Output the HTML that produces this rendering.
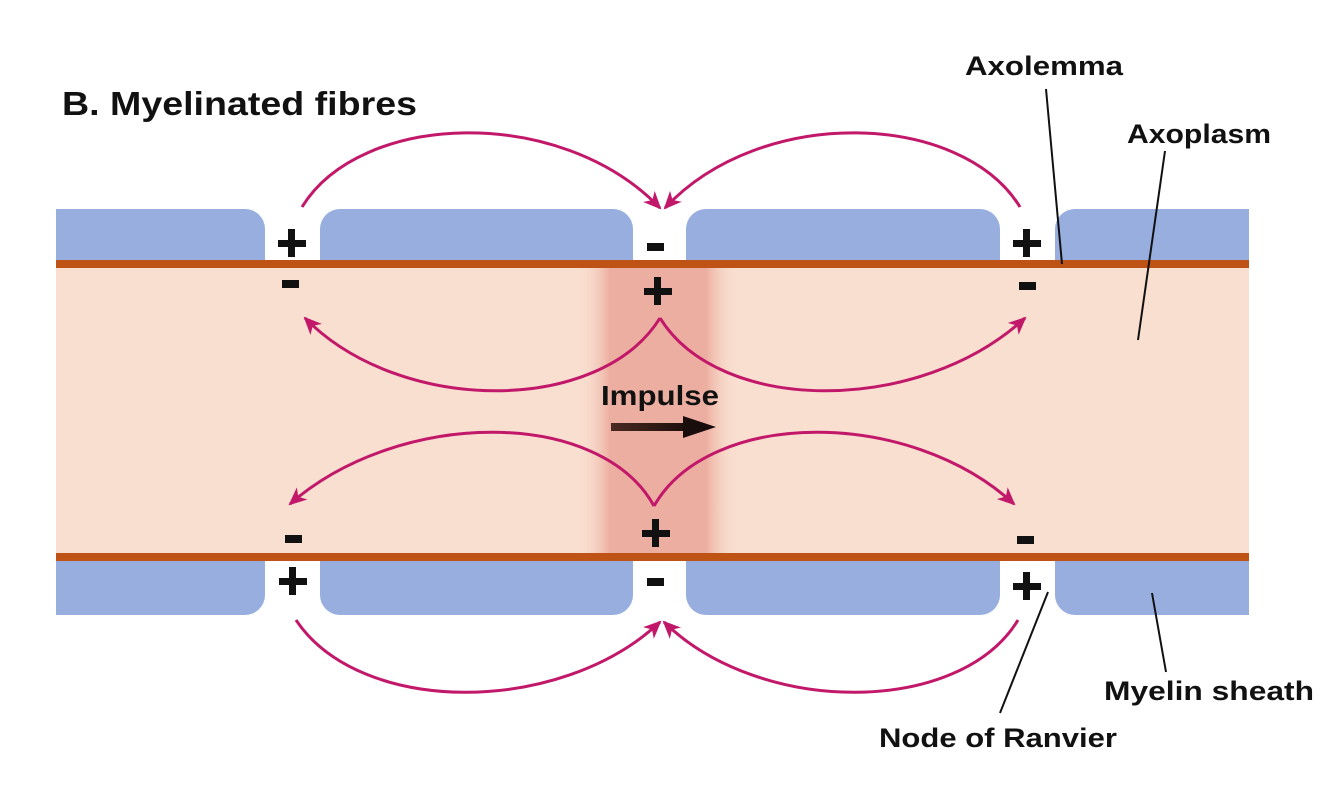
<!DOCTYPE html>
<html><head><meta charset="utf-8"><style>
html,body{margin:0;padding:0;background:#fff;}
svg{display:block;}
text{font-family:"Liberation Sans",sans-serif;font-weight:bold;fill:#111;}
</style></head><body>
<svg width="1334" height="790" viewBox="0 0 1334 790" xmlns="http://www.w3.org/2000/svg">
<defs>
<linearGradient id="band" x1="0" x2="1" y1="0" y2="0">
<stop offset="0" stop-color="#f9dfd0" stop-opacity="0"/>
<stop offset="0.2" stop-color="#ecaea0"/>
<stop offset="0.8" stop-color="#ecaea0"/>
<stop offset="1" stop-color="#f9dfd0" stop-opacity="0"/>
</linearGradient>
<linearGradient id="arr" x1="0" x2="1">
<stop offset="0" stop-color="#4a2a22"/><stop offset="1" stop-color="#1a0e0c"/>
</linearGradient>
<marker id="ah" markerWidth="18" markerHeight="16" refX="16" refY="8" orient="auto" markerUnits="userSpaceOnUse">
<path d="M0,0 L18,8 L0,16 L5,8 Z" fill="#c2186a"/>
</marker>
</defs>
<rect x="56" y="268" width="1193" height="285" fill="#f9dfd0"/>
<rect x="578" y="268" width="160" height="285" fill="url(#band)"/>
<g fill="#97aedf">
<path d="M56,209 H245 A20,20 0 0 1 265,229 V260 H56 Z"/>
<path d="M320,260 V229 A20,20 0 0 1 340,209 H613 A20,20 0 0 1 633,229 V260 Z"/>
<path d="M686,260 V229 A20,20 0 0 1 706,209 H980 A20,20 0 0 1 1000,229 V260 Z"/>
<path d="M1055,260 V229 A20,20 0 0 1 1075,209 H1249 V260 Z"/>
<path d="M56,615 H245 A20,20 0 0 0 265,595 V561 H56 Z"/>
<path d="M320,561 V595 A20,20 0 0 0 340,615 H613 A20,20 0 0 0 633,595 V561 Z"/>
<path d="M686,561 V595 A20,20 0 0 0 706,615 H980 A20,20 0 0 0 1000,595 V561 Z"/>
<path d="M1055,561 V595 A20,20 0 0 0 1075,615 H1249 V561 Z"/>
</g>
<rect x="56" y="260" width="1193" height="8" fill="#bf5316"/>
<rect x="56" y="553" width="1193" height="8" fill="#bf5316"/>
<g fill="none" stroke="#c2186a" stroke-width="3" marker-end="url(#ah)">
<path d="M302,207 C360,112 560,104 660,208"/>
<path d="M1020,207 C962,112 762,104 665,208"/>
<path d="M660,318 C600,415 400,415 305,318"/>
<path d="M660,318 C720,415 920,415 1025,318"/>
<path d="M654,506 C600,408 400,408 290,504"/>
<path d="M654,506 C710,408 910,408 1014,504"/>
<path d="M296,620 C360,716 560,716 660,622"/>
<path d="M1018,620 C960,716 760,716 664,622"/>
</g>
<g fill="#111">
<rect x="278" y="240" width="28" height="7"/><rect x="288" y="229" width="7" height="28"/>
<rect x="647" y="243" width="17" height="8"/>
<rect x="1013" y="240" width="28" height="7"/><rect x="1023" y="229" width="7" height="28"/>
<rect x="282" y="280" width="17" height="8"/>
<rect x="644" y="288" width="28" height="7"/><rect x="654" y="277" width="7" height="28"/>
<rect x="1019" y="282" width="17" height="8"/>
<rect x="285" y="535" width="17" height="8"/>
<rect x="642" y="530" width="28" height="7"/><rect x="652" y="519" width="7" height="28"/>
<rect x="1017" y="536" width="17" height="8"/>
<rect x="279" y="578" width="28" height="7"/><rect x="289" y="567" width="7" height="28"/>
<rect x="647" y="578" width="17" height="8"/>
<rect x="1013" y="583" width="28" height="7"/><rect x="1023" y="572" width="7" height="28"/>
</g>
<text x="601" y="405" font-size="28" textLength="118" lengthAdjust="spacingAndGlyphs">Impulse</text>
<rect x="611" y="423" width="80" height="8" fill="url(#arr)"/>
<path d="M683,416 L716,427 L683,438 Z" fill="#1a0e0c"/>
<text x="62" y="115" font-size="33" textLength="355" lengthAdjust="spacingAndGlyphs">B. Myelinated fibres</text>
<text x="965" y="75" font-size="27" textLength="158" lengthAdjust="spacingAndGlyphs">Axolemma</text>
<text x="1127" y="143" font-size="27" textLength="144" lengthAdjust="spacingAndGlyphs">Axoplasm</text>
<text x="1104" y="700" font-size="27" textLength="210" lengthAdjust="spacingAndGlyphs">Myelin sheath</text>
<text x="879" y="747" font-size="27" textLength="238" lengthAdjust="spacingAndGlyphs">Node of Ranvier</text>
<g stroke="#111" stroke-width="2">
<line x1="1046" y1="89" x2="1062" y2="264"/>
<line x1="1165" y1="151" x2="1138" y2="340"/>
<line x1="1152" y1="593" x2="1166" y2="672"/>
<line x1="1048" y1="592" x2="1000" y2="713"/>
</g>
</svg>
</body></html>
